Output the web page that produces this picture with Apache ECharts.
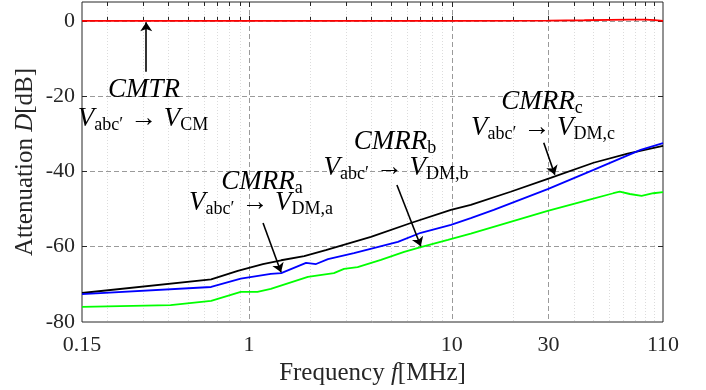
<!DOCTYPE html>
<html><head><meta charset="utf-8">
<script src="https://cdn.jsdelivr.net/npm/echarts@6/dist/echarts.min.js"></script>
<style>html,body{margin:0;padding:0;background:#fff}#c{width:706px;height:390px}</style>
</head><body><div id="c"></div>
<script>
// ---- axis ticks ----
const xTickValues = [0.15, 1, 10, 30, 110];
const xTickLabels = ['0.15', '1', '10', '30', '110'];
const xGridValues = [1, 10, 30];
const xMinorValues = [0.2, 0.3, 0.4, 0.5, 0.6, 0.7, 0.8, 0.9, 2, 3, 4, 5, 6, 7, 8, 9, 20, 40, 50, 60, 70, 80, 90, 100];
const yTickValues = [-80, -60, -40, -20, 0];
const yGridValues = [-60, -40, -20, 0];

// ---- series data (frequency in MHz, attenuation in dB) ----
const freqCMTR = [0.15, 1, 10, 30, 45, 60, 75, 90, 100, 110];
const valCMTR  = [0, 0, 0, 0.05, 0.15, 0.25, 0.3, 0.3, 0.2, 0];

const freqC = [0.15, 0.65, 0.88, 1.17, 1.44, 1.87, 2.39, 3.99, 6.28, 9.9, 12.4, 19.5, 30.7, 50, 73.6, 110];
const valC  = [-72.3, -68.7, -66.4, -64.6, -63.6, -62.5, -60.9, -57.4, -53.7, -50.2, -48.9, -45.4, -41.7, -37.7, -35.3, -33.2];

const freqA = [0.15, 0.65, 0.91, 1.28, 1.44, 1.91, 2.14, 2.45, 3.29, 5.42, 7.03, 9.9, 12.4, 16.1, 29.7, 50, 85.3, 110];
const valA  = [-72.6, -70.7, -68.5, -67.2, -67.0, -64.3, -64.6, -63.3, -61.7, -58.7, -56.3, -54.2, -52.4, -50.2, -44.7, -39.6, -34.3, -32.5];

const freqB = [0.15, 0.41, 0.65, 0.91, 1.1, 1.28, 1.95, 2.62, 2.94, 3.43, 4.47, 5.82, 7.03, 9.56, 12.4, 29.7, 46.8, 62.6, 67.3, 75.5, 86.3, 98.5, 110];
const valB  = [-76.0, -75.5, -74.4, -72.0, -72.0, -71.2, -68.0, -67.0, -65.9, -65.4, -63.5, -61.4, -60.1, -58.2, -56.5, -50.5, -47.6, -45.8, -45.4, -46.0, -46.5, -45.8, -45.5];

// ---- annotation arrows (data coordinates: [from], [to]) ----
const arrowCMTR = [[0.311, -13.5], [0.311, -0.4]];
const arrowA = [[1.172, -53.7], [1.438, -66.8]];
const arrowB = [[5.36, -43.6], [7.03, -59.9]];
const arrowC = [[28.4, -32.4], [32.2, -40.9]];

const FONT = 'Liberation Serif';
const AX = '#262626';
const pairs = (f, v) => f.map((x, i) => [x, v[i]]);

const chart = echarts.init(document.getElementById('c'), null, {renderer: 'canvas'});

const richMath = {
  m: {fontFamily: FONT, fontStyle: 'italic', fontSize: 27, lineHeight: 30, fill: '#000'},
  r: {fontFamily: FONT, fontSize: 27, lineHeight: 30, fill: '#000'},
  s: {fontFamily: FONT, fontSize: 18, lineHeight: 19, verticalAlign: 'bottom', fill: '#000'}
};
function mathText(x, y, text) {
  return {type: 'text', x: x, y: y, z: 100, silent: true,
    style: {text: text, align: 'center', verticalAlign: 'middle', rich: richMath}};
}

const xBase = {type: 'log', logBase: 10, min: 0.15, max: 110, gridIndex: 0};
const LW = 1.8;
const option = {
  animation: false,
  backgroundColor: '#fff',
  grid: {left: 82, right: 43, top: 2, bottom: 68, show: true, borderColor: AX, borderWidth: 1, outerBoundsMode: 'none'},
  xAxis: [
    Object.assign({}, xBase, {
      position: 'bottom',
      axisLine: {show: false},
      axisLabel: {customValues: xTickValues, fontFamily: FONT, fontSize: 22, color: AX, margin: 12,
        formatter: function (v) {
          let best = 0, d = Infinity;
          xTickValues.forEach((t, i) => { const e = Math.abs(Math.log(t) - Math.log(v)); if (e < d) { d = e; best = i; } });
          return xTickLabels[best];
        }},
      axisTick: {customValues: xGridValues, inside: true, length: 5, lineStyle: {color: AX}},
      splitLine: {show: true, lineStyle: {color: '#9a9a9a', type: [5, 3], width: 1}},
      minorTick: {show: false}, minorSplitLine: {show: false},
      name: '{r|Frequency }{i|f}{r|[MHz]}', nameLocation: 'middle', nameGap: 32,
      nameTextStyle: {fontFamily: FONT, fontSize: 25, color: AX,
        rich: {r: {fontFamily: FONT, fontSize: 25, color: AX}, i: {fontFamily: FONT, fontSize: 25, fontStyle: 'italic', color: AX}}}
    }),
    Object.assign({}, xBase, {
      position: 'bottom',
      axisLine: {show: false}, axisLabel: {show: false},
      axisTick: {customValues: xMinorValues, inside: true, length: 4, lineStyle: {color: AX}},
      splitLine: {show: true, lineStyle: {color: '#dcdcdc', type: [1, 2], width: 1}}
    }),
    Object.assign({}, xBase, {
      position: 'top',
      axisLine: {show: false}, axisLabel: {show: false},
      axisTick: {customValues: xGridValues, inside: true, length: 5, lineStyle: {color: AX}},
      splitLine: {show: false}
    }),
    Object.assign({}, xBase, {
      position: 'top',
      axisLine: {show: false}, axisLabel: {show: false},
      axisTick: {customValues: xMinorValues, inside: true, length: 4, lineStyle: {color: AX}},
      splitLine: {show: false}
    })
  ],
  yAxis: [
    {type: 'value', min: -80, max: 5, position: 'left',
      axisLine: {show: false},
      axisLabel: {customValues: yTickValues, fontFamily: FONT, fontSize: 22, color: AX, margin: 7},
      axisTick: {customValues: yGridValues, inside: true, length: 5, lineStyle: {color: AX}},
      splitLine: {show: true, lineStyle: {color: '#9a9a9a', type: [5, 3], width: 1}},
      name: '{r|Attenuation }{i|D}{r|[dB]}', nameLocation: 'middle', nameGap: 44, nameMoveOverlap: false,
      nameTextStyle: {fontFamily: FONT, fontSize: 25, color: AX,
        rich: {r: {fontFamily: FONT, fontSize: 25, color: AX}, i: {fontFamily: FONT, fontSize: 25, fontStyle: 'italic', color: AX}}}
    },
    {type: 'value', min: -80, max: 5, position: 'right',
      axisLine: {show: false}, axisLabel: {show: false},
      axisTick: {customValues: yGridValues, inside: true, length: 5, lineStyle: {color: AX}},
      splitLine: {show: false}
    }
  ],
  series: [
    {name: 'CMRR_c', type: 'line', xAxisIndex: 0, yAxisIndex: 0, data: pairs(freqC, valC), showSymbol: false, symbol: 'none',
      lineStyle: {color: '#000000', width: LW}, z: 3,
      markLine: {silent: true, symbol: ['none', 'arrow'], symbolSize: 9, animation: false,
        lineStyle: {color: '#000', width: 1.6, type: 'solid'}, label: {show: false}, emphasis: {disabled: true},
        data: [arrowCMTR, arrowA, arrowB, arrowC].map(a => [{coord: a[0]}, {coord: a[1]}])}},
    {name: 'CMRR_a', type: 'line', xAxisIndex: 0, yAxisIndex: 0, data: pairs(freqA, valA), showSymbol: false, symbol: 'none',
      lineStyle: {color: '#0000ff', width: LW}, z: 3},
    {name: 'CMRR_b', type: 'line', xAxisIndex: 0, yAxisIndex: 0, data: pairs(freqB, valB), showSymbol: false, symbol: 'none',
      lineStyle: {color: '#00ff00', width: LW}, z: 3},
    {name: 'CMTR', type: 'line', xAxisIndex: 0, yAxisIndex: 0, data: pairs(freqCMTR, valCMTR), showSymbol: false, symbol: 'none',
      lineStyle: {color: '#ff0000', width: LW}, z: 3}
  ],
  graphic: [
    mathText(144, 90, '{m|CMTR}'),
    mathText(143, 119, '{m|V}{s|abc′}{r| → }{m|V}{s|CM}'),
    mathText(262, 182, '{m|CMRR}{s|a}'),
    mathText(261, 203, '{m|V}{s|abc′}{r| → }{m|V}{s|DM,a}'),
    mathText(395, 142, '{m|CMRR}{s|b}'),
    mathText(396, 168, '{m|V}{s|abc′}{r| → }{m|V}{s|DM,b}'),
    mathText(542, 102, '{m|CMRR}{s|c}'),
    mathText(543, 128, '{m|V}{s|abc′}{r| → }{m|V}{s|DM,c}')
  ]
};
chart.setOption(option);
</script></body></html>
